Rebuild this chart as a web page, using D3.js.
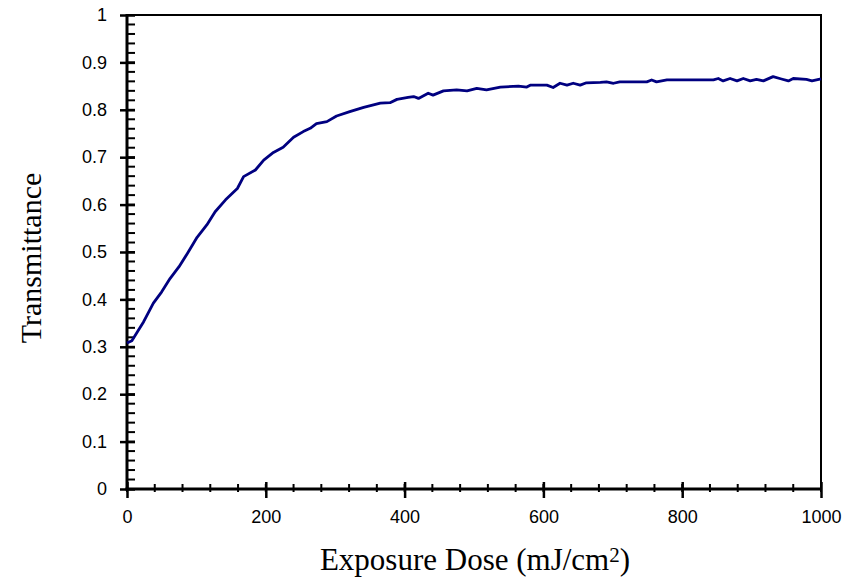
<!DOCTYPE html>
<html>
    <head>
        <title></title>
        <style>
            body { margin: 0; background: #fff; }
        </style>
    </head>
    <body>
        <script src="https://cdnjs.cloudflare.com/ajax/libs/d3/7.8.5/d3.min.js"></script>
        <script>

        var w = 850;
        var h = 579;
        var margin = { top: 15, right: 29, bottom: 90, left: 127 };

        // values
        var dose = [0, 7, 24, 38, 50, 62, 75, 87, 101, 115, 127, 142, 159, 168, 185, 197,
                    211, 225, 240, 254, 264, 273, 288, 302, 321, 341, 365, 379, 389, 405,
                    413, 420, 434, 441, 456, 475, 490, 504, 518, 538, 564, 576, 581, 605,
                    614, 624, 634, 643, 653, 662, 682, 691, 701, 710, 749, 756, 763, 778,
                    845, 852, 859, 869, 879, 888, 898, 907, 917, 931, 943, 953, 960, 979,
                    987, 1000];
        var transmittance = [0.308, 0.313, 0.353, 0.392, 0.416, 0.444, 0.469, 0.497, 0.531, 0.557, 0.585, 0.610, 0.634, 0.659, 0.673, 0.694,
                    0.710, 0.721, 0.742, 0.754, 0.761, 0.771, 0.775, 0.787, 0.796, 0.805, 0.814, 0.815, 0.822, 0.826,
                    0.828, 0.824, 0.835, 0.831, 0.840, 0.842, 0.840, 0.845, 0.842, 0.848, 0.850, 0.848, 0.852, 0.852,
                    0.847, 0.856, 0.852, 0.856, 0.852, 0.857, 0.858, 0.859, 0.856, 0.859, 0.859, 0.863, 0.859, 0.863,
                    0.863, 0.866, 0.861, 0.866, 0.861, 0.866, 0.861, 0.864, 0.861, 0.870, 0.865, 0.861, 0.866, 0.864,
                    0.861, 0.865];

        var xTicks = [0, 200, 400, 600, 800, 1000];
        var yTicks = [0, 0.1, 0.2, 0.3, 0.4, 0.5, 0.6, 0.7, 0.8, 0.9, 1];

        var data = dose.map(function(d, i) {
            return { x: d, y: transmittance[i] };
        });

        var pw = w - margin.left - margin.right;
        var ph = h - margin.top - margin.bottom;

        var xScale = d3.scaleLinear().domain([0, 1000]).range([0, pw]);
        var yScale = d3.scaleLinear().domain([0, 1]).range([ph, 0]);

        var svg = d3.select("body")
                    .append("svg")
                    .attr("width", w)
                    .attr("height", h);

        var g = svg.append("g")
                   .attr("transform", "translate(" + margin.left + "," + margin.top + ")");

        // top and right frame
        g.append("path")
            .attr("d", "M0,0H" + pw + "V" + ph)
            .attr("fill", "none")
            .attr("stroke", "#000")
            .attr("stroke-width", 2);

        // minor ticks
        var xMinor = d3.range(0, 1001, 40);
        g.selectAll("line.xminor")
            .data(xMinor)
            .enter()
            .append("line")
            .attr("x1", function(d) { return xScale(d); })
            .attr("x2", function(d) { return xScale(d); })
            .attr("y1", ph - 5)
            .attr("y2", ph + 3)
            .attr("stroke", "#000")
            .attr("stroke-width", 2);

        var yMinor = d3.range(0, 51).map(function(i) { return i / 50; });
        g.selectAll("line.yminor")
            .data(yMinor)
            .enter()
            .append("line")
            .attr("x1", 0)
            .attr("x2", 8)
            .attr("y1", function(d) { return yScale(d); })
            .attr("y2", function(d) { return yScale(d); })
            .attr("stroke", "#000")
            .attr("stroke-width", 2);

        // axes
        var xAxis = d3.axisBottom(xScale)
                      .tickValues(xTicks)
                      .tickSize(9)
                      .tickPadding(12)
                      .tickFormat(d3.format("d"));
        var gx = g.append("g")
                  .attr("transform", "translate(0," + ph + ")")
                  .call(xAxis);
        gx.selectAll(".tick line").attr("y1", -7).attr("stroke-width", 2.5);

        var yAxis = d3.axisLeft(yScale)
                      .tickValues(yTicks)
                      .tickSize(7)
                      .tickPadding(13)
                      .tickFormat(function(d) { return d3.format("")(+d.toFixed(1)); });
        var gy = g.append("g").call(yAxis);
        gy.selectAll(".tick line").attr("x1", 8).attr("stroke-width", 2.5);

        [gx, gy].forEach(function(a) {
            a.select(".domain").attr("stroke-width", 3).attr("stroke", "#000");
            a.selectAll(".tick text")
             .attr("font-family", "'Liberation Sans', Arial, sans-serif")
             .attr("font-size", "18px")
             .attr("fill", "#000");
        });
        gx.select(".domain").attr("d", "M-1.5,0H" + (pw + 1));
        gy.select(".domain").attr("d", "M0," + (ph + 1.5) + "V-1");

        // curve
        var line = d3.line()
                     .x(function(d) { return xScale(d.x); })
                     .y(function(d) { return yScale(d.y); });

        g.append("path")
            .datum(data)
            .attr("d", line)
            .attr("fill", "none")
            .attr("stroke", "#000080")
            .attr("stroke-width", 2.8)
            .attr("stroke-linejoin", "round");

        // axis titles
        var xt = svg.append("text")
            .attr("x", 475)
            .attr("y", 570)
            .attr("text-anchor", "middle")
            .attr("font-family", "'Liberation Serif', 'Times New Roman', serif")
            .attr("font-size", "31px")
            .attr("fill", "#000");
        xt.append("tspan").text("Exposure Dose (mJ/cm");
        xt.append("tspan").attr("dy", -8).attr("font-size", "21px").text("2");
        xt.append("tspan").attr("dy", 8).text(")");

        svg.append("text")
            .attr("transform", "translate(41,258) rotate(-90)")
            .attr("text-anchor", "middle")
            .attr("font-family", "'Liberation Serif', 'Times New Roman', serif")
            .attr("font-size", "30px")
            .attr("fill", "#000")
            .text("Transmittance");

        </script>
    </body>
</html>
